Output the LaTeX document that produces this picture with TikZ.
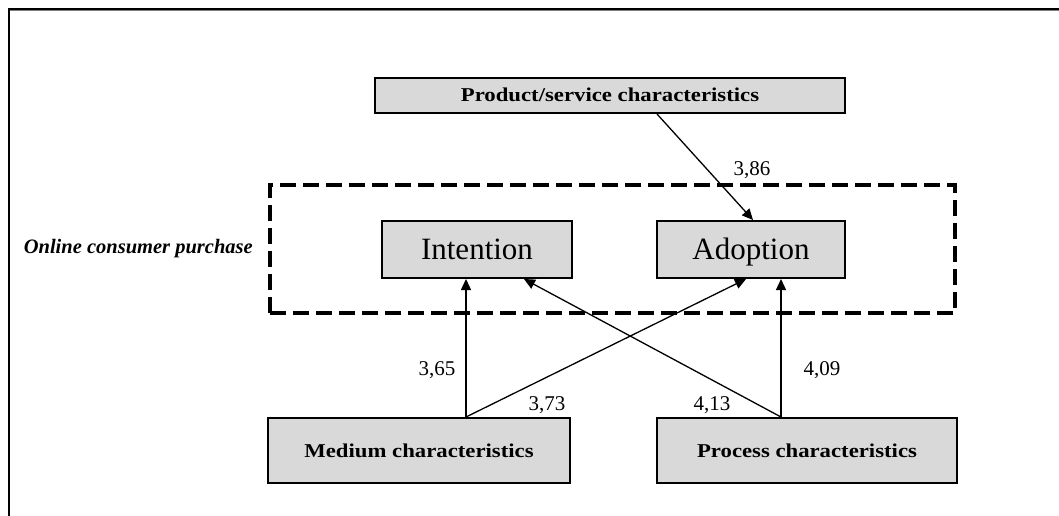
\documentclass[tikz,border=0pt]{standalone}
\usepackage{fontspec}
\setmainfont{Liberation Serif}
\usetikzlibrary{arrows.meta}
\newcommand{\wide}[1]{\scalebox{1.16}[1]{#1}}
\begin{document}
\begin{tikzpicture}[x=1pt,y=-1pt,
  box/.style={draw=black,line width=2pt,fill=boxgray,inner sep=0pt,anchor=center},
  smallbox/.style={box,font=\fontsize{19.6}{23}\selectfont\bfseries,text height=13pt,text depth=0pt},
  bigbox/.style={box,font=\fontsize{31}{36}\selectfont,text height=20.5pt,text depth=0pt},
  conn/.style={line width=1.3pt,-{Triangle[length=11pt,width=10pt]}},
  coef/.style={font=\fontsize{21}{24}\selectfont,inner sep=0pt}]
\definecolor{boxgray}{RGB}{217,217,217}
\useasboundingbox (0,0) rectangle (1059,516);
% outer frame (top and left only)
\draw[line width=2.5pt] (9,516) -- (9,9) -- (1059,9);
\draw[line width=1.2pt,gray] (10.25,10.85) -- (1059,10.85);
% dashed grouping box
\node[draw=black,line width=3.5pt,dash pattern=on 16pt off 7pt,minimum width=685pt,minimum height=128pt,inner sep=0pt] (grp) at (612.5,249) {};
\node[font=\fontsize{20.5}{24}\selectfont\bfseries\itshape,anchor=east,inner sep=0pt] (lbl) at (253,249) {Online consumer purchase};
% nodes
\node[smallbox,minimum width=470pt,minimum height=35pt] (prod) at (610,95.5) {\wide{Product/service characteristics}};
\node[bigbox,minimum width=190pt,minimum height=57pt] (int) at (477,249.5) {Intention};
\node[bigbox,minimum width=188pt,minimum height=57pt] (adop) at (751,249.5) {Adoption};
\node[smallbox,minimum width=302pt,minimum height=65pt] (med) at (419,450.5) {\wide{Medium characteristics}};
\node[smallbox,minimum width=300pt,minimum height=65pt] (proc) at (807,450.5) {\wide{Process characteristics}};
% connectors
\draw[conn] ([xshift=47pt]prod.south) -- ([xshift=2pt]adop.north);
\draw[conn] ([xshift=47pt]med.north) -- ([xshift=-11pt]int.south);
\draw[conn] ([xshift=47pt]med.north) -- ([xshift=-5pt]adop.south);
\draw[conn] ([xshift=-26pt]proc.north) -- ([xshift=47pt]int.south);
\draw[conn] ([xshift=-26pt]proc.north) -- ([xshift=30pt]adop.south);
% coefficients
\node[coef] (c1) at (752,170) {3,86};
\node[coef] (c2) at (437,370) {3,65};
\node[coef] (c3) at (547,405) {3,73};
\node[coef] (c4) at (712,405) {4,13};
\node[coef] (c5) at (822,370) {4,09};
\end{tikzpicture}
\end{document}
